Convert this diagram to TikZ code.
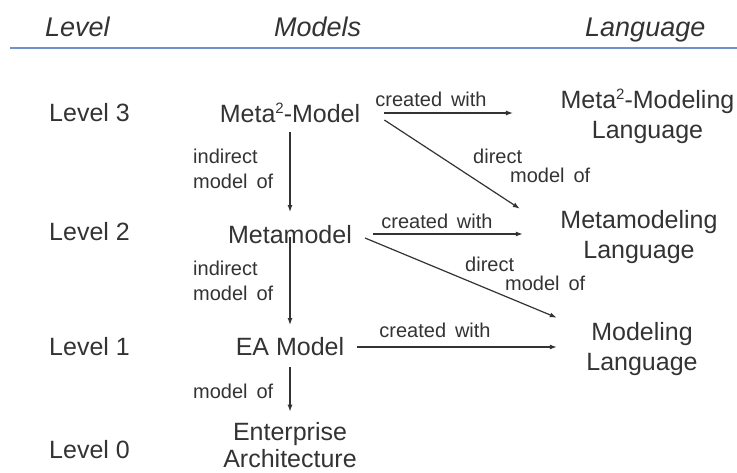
\documentclass[tikz,border=0pt]{standalone}
\usepackage{fontspec}
\setmainfont{Liberation Sans}
\usetikzlibrary{arrows.meta}
\definecolor{txt}{HTML}{333333}
\definecolor{rulecol}{RGB}{112,146,200}
\begin{document}
\begin{tikzpicture}[x=1pt,y=-1pt,
  every node/.style={inner sep=0pt, text=txt},
  hdr/.style={font=\fontsize{27}{32}\selectfont\itshape, anchor=base west},
  lvl/.style={font=\fontsize{25}{29}\selectfont, anchor=base west},
  mdl/.style={font=\fontsize{25}{27}\selectfont, anchor=base, align=center},
  lng/.style={font=\fontsize{25}{30}\selectfont, anchor=base, align=center},
  lab/.style={font=\fontsize{20}{25}\selectfont, anchor=base west, align=left},
  labc/.style={font=\fontsize{20}{25}\selectfont, anchor=base},
  dlab/.style={font=\fontsize{20}{19}\selectfont, anchor=base west, align=left},
  arr/.style={draw=txt, line width=1.2pt, -{Latex[length=7pt,width=5pt]}}
]
\useasboundingbox (0,0) rectangle (737,472);

% headers
\node[hdr] (hlevel) at (45,36) {Level};
\node[hdr] (hmodels) at (274,36) {Models};
\node[hdr] (hlang) at (585,36) {Language};
\coordinate (ruleL) at (10,48);
\coordinate (ruleR) at (737,48);
\draw[rulecol, line width=2pt] (ruleL) -- (ruleR);

% levels
\node[lvl] (l3) at (49,121) {Level 3};
\node[lvl] (l2) at (49,240) {Level 2};
\node[lvl] (l1) at (49,355) {Level 1};
\node[lvl] (l0) at (49,458) {Level 0};

% models (base anchor = baseline of last line)
\node[mdl] (m2) at (290,122) {Meta\raisebox{0.36em}{\fontsize{15}{15}\selectfont 2}-Model};
\node[mdl] (mm) at (290,243) {Metamodel};
\node[mdl] (ea) at (290,355) {EA Model};
\node[mdl] (eaa) at (290,467) {Enterprise\\Architecture};

% languages
\node[lng] (ml3) at (647.5,138) {Meta\raisebox{0.36em}{\fontsize{15}{15}\selectfont 2}-Modeling\\Language};
\node[lng] (ml2) at (639,258) {Metamodeling\\Language};
\node[lng] (ml1) at (642,370) {Modeling\\Language};

% vertical arrows
\draw[arr] ([shift={(0,10)}]m2.base) -- ([shift={(0,-31)}]mm.base);
\draw[arr] ([shift={(0,-6)}]mm.base) -- ([shift={(0,-30)}]ea.base);
\draw[arr] ([shift={(0,12)}]ea.base) -- ([shift={(0,-10)}]eaa.north);

% horizontal arrows
\draw[arr] ([shift={(24,-9)}]m2.base east) -- ([shift={(-47.5,-9)}]ml3.west |- m2.base);
\draw[arr] ([shift={(21,-9)}]mm.base east) -- ([shift={(-37.5,-9)}]ml2.west |- mm.base);
\draw[arr] ([shift={(13,-8)}]ea.base east) -- ([shift={(-29.4,-8)}]ml1.west |- ea.base);

% diagonal arrows
\draw[arr] ([shift={(24,-2)}]m2.base east) -- ([shift={(-40.5,-1)}]ml2.north west);
\draw[arr] ([shift={(13,-5)}]mm.base east) -- ([shift={(-29.4,-4)}]ml1.north west);

% labels
\node[labc] (c3) at (431,106) {created\, with};
\node[labc] (c2) at (437,228) {created\, with};
\node[labc] (c1) at (435,337) {created\, with};
\node[lab] (i3) at (193,188) {indirect\\model\, of};
\node[lab] (i2) at (193,300) {indirect\\model\, of};
\node[lab] (i1) at (193,398) {model\, of};
\node[dlab] (d3) at (473,182) {direct\\\hspace*{37pt}model\, of};
\node[dlab] (d2) at (465,290) {direct\\\hspace*{40pt}model\, of};
\end{tikzpicture}
\end{document}
